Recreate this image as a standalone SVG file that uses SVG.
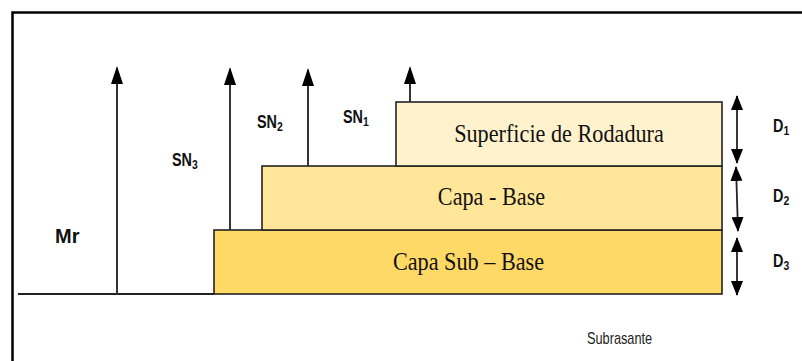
<svg xmlns="http://www.w3.org/2000/svg" width="802" height="361" viewBox="0 0 802 361">
  <defs>
    <!-- arrowheads: tip along +x, oriented with the line -->
    <marker id="head" viewBox="0 0 18 12" refX="16" refY="6" markerWidth="18" markerHeight="12" markerUnits="userSpaceOnUse" orient="auto-start-reverse">
      <path d="M18 6 L0 0 L0 12 Z" fill="#000"/>
    </marker>
    <marker id="dhead" viewBox="0 0 15 12" refX="14" refY="6" markerWidth="15" markerHeight="12" markerUnits="userSpaceOnUse" orient="auto-start-reverse">
      <path d="M15 6 L0 0 L0 12 Z" fill="#000"/>
    </marker>
  </defs>
  <style>
    .frame { fill: none; stroke: #000; stroke-width: 2.5; }
    .layer { stroke: #222; stroke-width: 1.6; }
    .vec { stroke: #333; stroke-width: 2; fill: none; }
    .ground { stroke: #222; stroke-width: 2; }
    .dim { stroke: #222; stroke-width: 1.8; fill: none; }
    .lbl { font-family: "Liberation Sans", Arial, sans-serif; font-family: "Liberation Serif", "Times New Roman", serif; font-size: 26px; fill: #111; text-anchor: middle; }
    .sym { font-family: "Liberation Sans", Arial, sans-serif; font-weight: bold; font-size: 18px; fill: #111; }
    .big { font-size: 20px; }
    .sub { font-size: 13px; }
    .note { font-family: "Liberation Sans", Arial, sans-serif; font-size: 17px; fill: #222; }
  </style>

  <rect width="802" height="361" fill="#fff"/>
  <!-- page frame (top and left edges) -->
  <path class="frame" d="M12.5 361 V12.5 H802"/>

  <!-- ground line -->
  <line class="ground" x1="18" y1="294" x2="214" y2="294"/>

  <!-- pavement layers -->
  <g id="subbase">
    <rect class="layer" x="214" y="230" width="508" height="64" fill="#FFD966"/>
    <text class="lbl" transform="translate(468.5,270) scale(0.855,1)">Capa Sub – Base</text>
  </g>
  <g id="base">
    <rect class="layer" x="262" y="166" width="460" height="64" fill="#FFE699"/>
    <text class="lbl" transform="translate(491.5,205) scale(0.855,1)">Capa - Base</text>
  </g>
  <g id="surface">
    <rect class="layer" x="396" y="102" width="326" height="64" fill="#FFF2CC"/>
    <text class="lbl" transform="translate(559,142) scale(0.855,1)">Superficie de Rodadura</text>
  </g>

  <!-- modulus / structural number vectors -->
  <g id="connectors">
    <line class="vec" x1="117" y1="294" x2="117" y2="68" marker-end="url(#head)"/>
    <line class="vec" x1="230" y1="230" x2="230" y2="69" marker-end="url(#head)"/>
    <line class="vec" x1="308" y1="166" x2="308" y2="70" marker-end="url(#head)"/>
    <line class="vec" x1="410" y1="102" x2="410" y2="68" marker-end="url(#head)"/>

    <!-- thickness dimensions -->
    <line class="dim" x1="737" y1="96" x2="737" y2="163" marker-start="url(#dhead)" marker-end="url(#dhead)"/>
    <line class="dim" x1="736" y1="167" x2="738" y2="231" marker-start="url(#dhead)" marker-end="url(#dhead)"/>
    <line class="dim" x1="737" y1="238" x2="737" y2="295" marker-start="url(#dhead)" marker-end="url(#dhead)"/>
  </g>

  <!-- symbols -->
  <g id="labels">
    <text class="sym big" x="55" y="243">Mr</text>
    <text class="sym" transform="translate(172,166) scale(0.8,1)">SN<tspan class="sub" dy="3">3</tspan></text>
    <text class="sym" transform="translate(257,128) scale(0.8,1)">SN<tspan class="sub" dy="3">2</tspan></text>
    <text class="sym" transform="translate(343,123) scale(0.8,1)">SN<tspan class="sub" dy="3">1</tspan></text>
    <text class="sym" transform="translate(773,132) scale(0.8,1)">D<tspan class="sub" dy="3">1</tspan></text>
    <text class="sym" transform="translate(773,202) scale(0.8,1)">D<tspan class="sub" dy="3">2</tspan></text>
    <text class="sym" transform="translate(773,267) scale(0.8,1)">D<tspan class="sub" dy="3">3</tspan></text>
    <text class="note" transform="translate(587,344) scale(0.75,1)">Subrasante</text>
  </g>
</svg>
